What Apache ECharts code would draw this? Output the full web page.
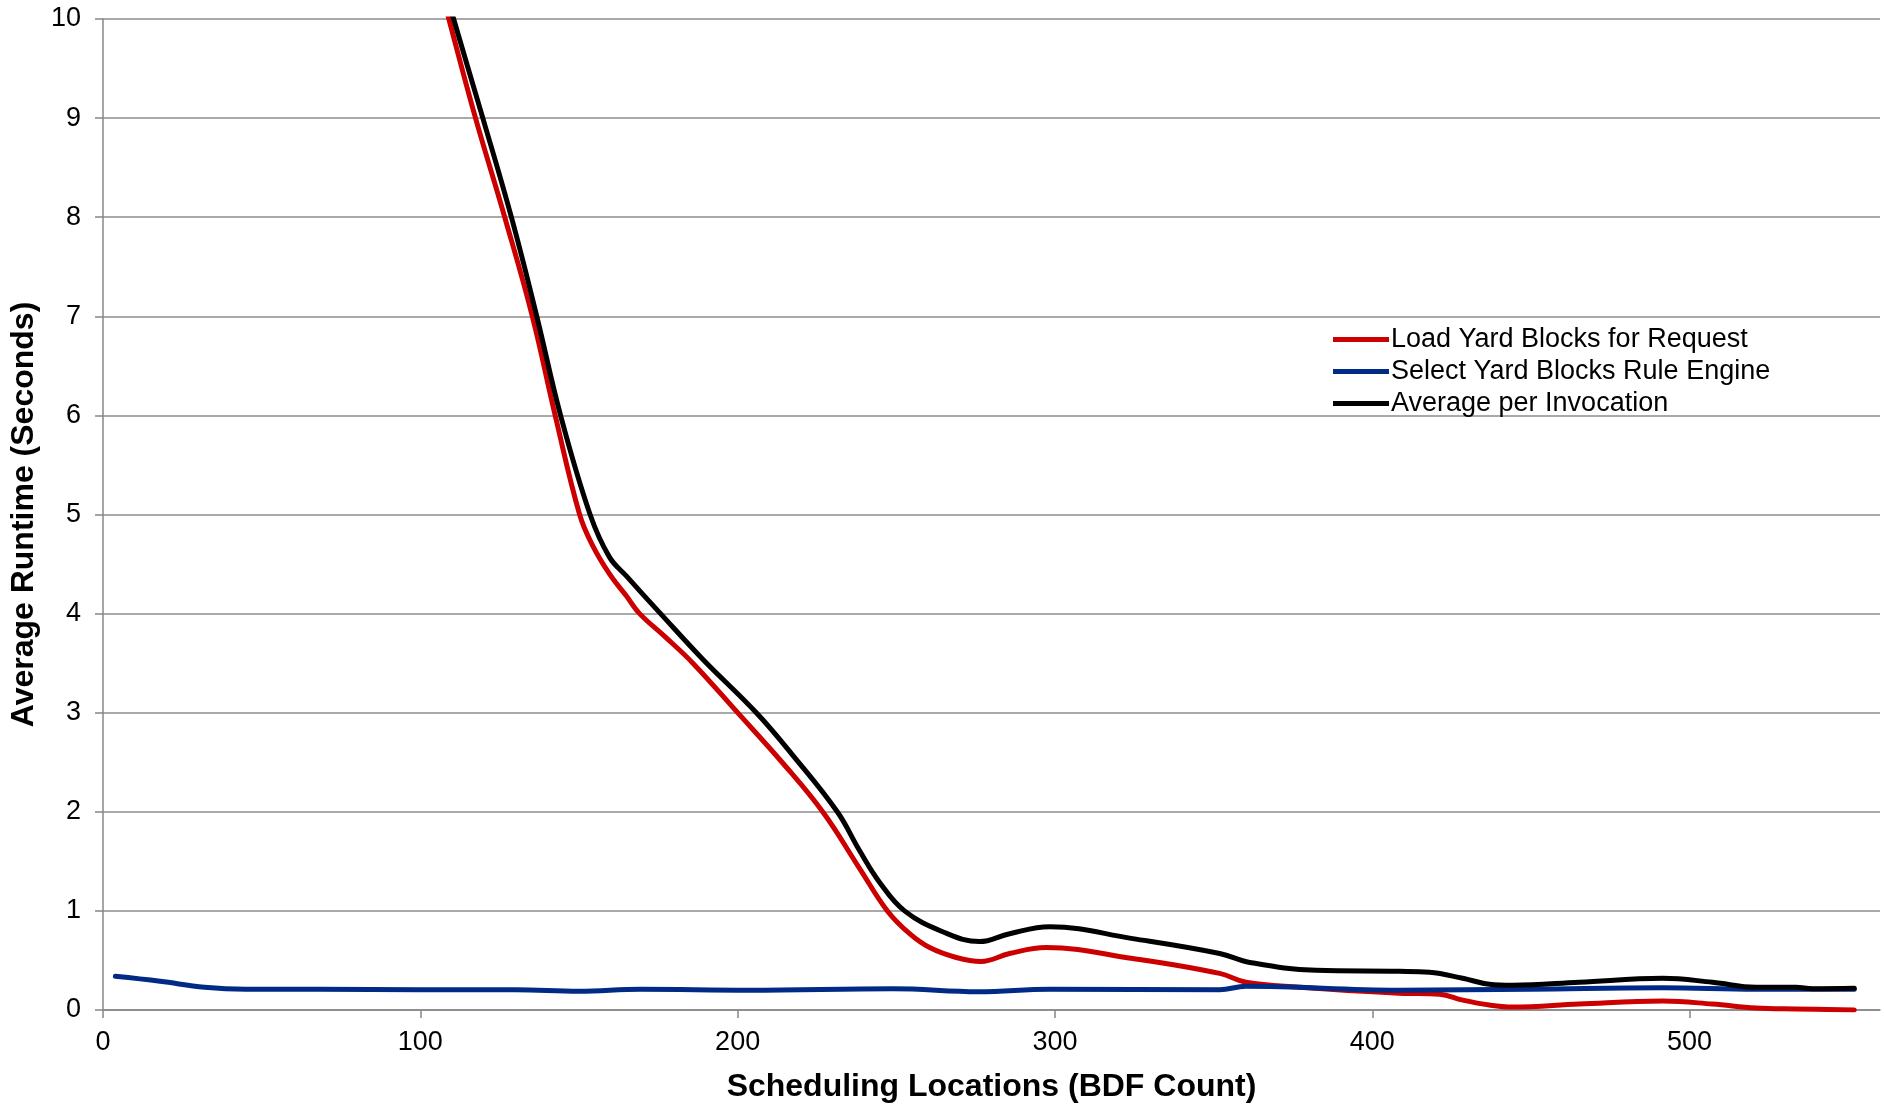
<!DOCTYPE html>
<html>
<head>
<meta charset="utf-8">
<script src="https://cdn.jsdelivr.net/npm/echarts@6/dist/echarts.min.js"></script>
<style>
html,body{margin:0;padding:0;background:#fff;}
#chart{width:1884px;height:1108px;}
</style>
</head>
<body>
<div id="chart"></div>
<script>
// Series names
const seriesNames = ['Load Yard Blocks for Request', 'Select Yard Blocks Rule Engine', 'Average per Invocation'];

// Load Yard Blocks for Request (red)
const loadX = [90, 100, 109.0, 117.4, 126.6, 135.3, 142.5, 150.2, 154.4, 159.6, 164.9, 169.1, 177, 185.9, 200, 214, 226.8, 238.4, 247.2, 254.2, 260.5, 268.9, 276.7, 285.7, 297.2, 324.5, 351.9, 360.2, 377, 408.5, 421.2, 428.5, 436.9, 444.2, 465.2, 491.5, 507.2, 520.9, 533.5, 551.9];
const loadY = [12.3, 11.1, 10, 9, 8, 7, 6, 5.0, 4.68, 4.40, 4.18, 4.0, 3.77, 3.5, 3.0, 2.5, 2.0, 1.43, 1.0, 0.77, 0.63, 0.53, 0.49, 0.57, 0.63, 0.52, 0.37, 0.28, 0.23, 0.17, 0.16, 0.1, 0.05, 0.03, 0.06, 0.09, 0.06, 0.02, 0.01, 0.0];

// Select Yard Blocks Rule Engine (blue)
const selectX = [3.9, 18, 32, 45, 68, 100, 130, 150, 169.4, 203.7, 249, 276, 298.3, 351.9, 360.2, 408.5, 450, 491.5, 520.9, 551.9];
const selectY = [0.34, 0.29, 0.23, 0.21, 0.21, 0.205, 0.205, 0.19, 0.21, 0.20, 0.215, 0.185, 0.21, 0.205, 0.24, 0.20, 0.21, 0.225, 0.21, 0.21];

// Average per Invocation (black)
const avgX = [90, 100, 110.5, 119.7, 128.7, 136.7, 144.2, 153.5, 159.6, 164.9, 175.7, 189, 205.9, 217.4, 231.4, 238.4, 244.7, 252.6, 264.6, 276.2, 285.7, 298.3, 324.5, 351.9, 361.4, 382.3, 408.5, 418, 428.5, 436.9, 444.2, 465.2, 491.5, 507.2, 520.9, 533.5, 538.7, 551.9];
const avgY = [12.4, 11.2, 10, 9, 8, 7, 6, 5, 4.57, 4.38, 4.0, 3.54, 3.0, 2.57, 2.0, 1.61, 1.29, 1.0, 0.79, 0.69, 0.77, 0.84, 0.72, 0.57, 0.48, 0.40, 0.39, 0.38, 0.32, 0.26, 0.25, 0.28, 0.32, 0.28, 0.23, 0.23, 0.215, 0.22];

// Axis ticks
const xTicks = [0, 100, 200, 300, 400, 500];
const yTicks = [0, 1, 2, 3, 4, 5, 6, 7, 8, 9, 10];

function pairs(xs, ys) { return xs.map((x, i) => [x, ys[i]]); }

const FONT = "'Liberation Sans', Arial, sans-serif";
const chart = echarts.init(document.getElementById('chart'), null, {renderer: 'canvas'});

const colors = ['#CC0000', '#002A85', '#000000'];
const datasets = [pairs(loadX, loadY), pairs(selectX, selectY), pairs(avgX, avgY)];

chart.setOption({
  backgroundColor: '#ffffff',
  animation: false,
  grid: {left: 103, top: 19, right: 4, bottom: 91.5, containLabel: false},
  legend: {
    orient: 'vertical',
    left: 1328,
    top: 321,
    itemWidth: 56,
    itemHeight: 20,
    itemGap: 5,
    data: seriesNames,
    textStyle: {fontFamily: FONT, fontSize: 27, color: '#000', padding: [0,0,0,-3]},
    icon: 'path://M0,0 L56,0 L56,5 L0,5 Z'
  },
  xAxis: {
    type: 'value',
    min: 0,
    max: 560,
    interval: 100,
    name: 'Scheduling Locations (BDF Count)',
    nameLocation: 'middle',
    nameGap: 61,
    nameTextStyle: {fontFamily: FONT, fontSize: 32, fontWeight: 'bold', color: '#000'},
    axisLine: {show: true, onZero: false, lineStyle: {color: '#878787', width: 1.5}},
    axisTick: {show: true, length: 8, lineStyle: {color: '#878787', width: 1.5}, customValues: xTicks},
    axisLabel: {fontFamily: FONT, fontSize: 27, color: '#000', margin: 19, customValues: xTicks},
    splitLine: {show: false}
  },
  yAxis: {
    type: 'value',
    min: 0,
    max: 10,
    interval: 1,
    name: 'Average Runtime (Seconds)',
    nameLocation: 'middle',
    nameGap: 60,
    nameTextStyle: {fontFamily: FONT, fontSize: 32, fontWeight: 'bold', color: '#000'},
    axisLine: {show: true, lineStyle: {color: '#878787', width: 1.5}},
    axisTick: {show: true, length: 8, lineStyle: {color: '#878787', width: 1.5}},
    axisLabel: {fontFamily: FONT, fontSize: 27, color: '#000', margin: 22, customValues: yTicks},
    splitLine: {show: true, lineStyle: {color: '#8c8c8c', width: 1.5}}
  },
  series: seriesNames.map((name, i) => ({
    name: name,
    type: 'line',
    data: datasets[i],
    smooth: 0.4,
    symbol: 'none',
    clip: true,
    color: colors[i],
    lineStyle: {color: colors[i], width: 5, cap: 'round', join: 'round'},
    itemStyle: {color: colors[i]},
    z: 2 + i
  }))
});
</script>
</body>
</html>
